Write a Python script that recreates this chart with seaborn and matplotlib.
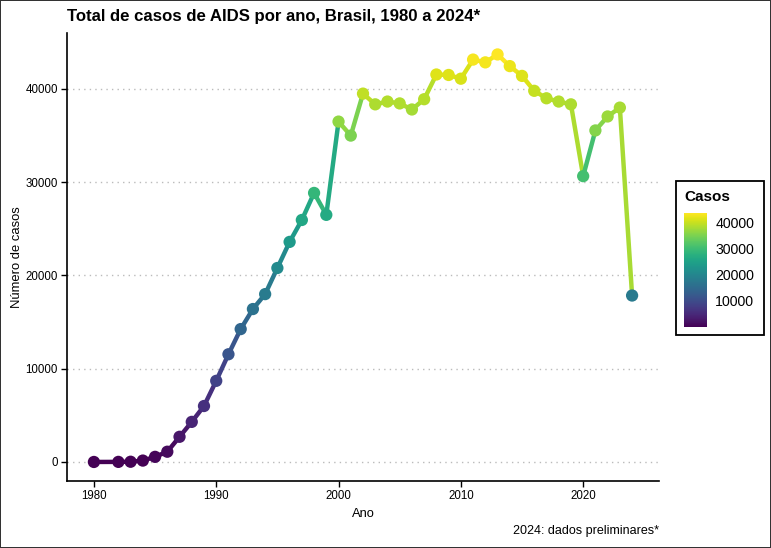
import numpy as np
import pandas as pd
import seaborn as sns
import matplotlib.pyplot as plt
from matplotlib.collections import LineCollection
from matplotlib.colors import Normalize
from matplotlib.cm import ScalarMappable
from matplotlib.patches import Rectangle

anos = [1980, 1982, 1983, 1984, 1985, 1986, 1987, 1988, 1989, 1990,
        1991, 1992, 1993, 1994, 1995, 1996, 1997, 1998, 1999, 2000,
        2001, 2002, 2003, 2004, 2005, 2006, 2007, 2008, 2009, 2010,
        2011, 2012, 2013, 2014, 2015, 2016, 2017, 2018, 2019, 2020,
        2021, 2022, 2023, 2024]
casos = [1, 10, 25, 150, 550, 1100, 2700, 4300, 6000, 8700,
         11550, 14250, 16400, 18000, 20800, 23600, 25950, 28850, 26500, 36500,
         35000, 39500, 38350, 38650, 38450, 37800, 38900, 41550, 41500, 41100,
         43150, 42850, 43700, 42450, 41400, 39800, 39000, 38650, 38350, 30650,
         35550, 37050, 38000, 17850]
legenda_ticks = [10000, 20000, 30000, 40000]

df = pd.DataFrame({"Ano": anos, "Casos": casos})

sns.set_theme(style="white")
plt.rcParams['font.family'] = ['Liberation Sans', 'DejaVu Sans']
plt.rcParams['text.color'] = 'black'
plt.rcParams['axes.labelcolor'] = 'black'
plt.rcParams['xtick.color'] = 'black'
plt.rcParams['ytick.color'] = 'black'

fig = plt.figure(figsize=(7.71, 5.48), dpi=100)
fig.patch.set_edgecolor("#333333")
fig.patch.set_linewidth(1.2)
ax = fig.add_axes([67 / 771, 1 - 481 / 548, 592 / 771, 448 / 548])

norm = Normalize(vmin=min(casos), vmax=max(casos))
cmap = plt.get_cmap("viridis")

# each segment gets the colour of its starting point
pts = df[["Ano", "Casos"]].to_numpy()
segs = np.stack([pts[:-1], pts[1:]], axis=1)
lc = LineCollection(segs, cmap=cmap, norm=norm, linewidths=3.2, capstyle="round", zorder=2)
lc.set_array(df["Casos"].to_numpy()[:-1])
ax.add_collection(lc)

sns.scatterplot(data=df, x="Ano", y="Casos", hue="Casos", hue_norm=norm, palette="viridis",
                s=78, linewidth=0, legend=False, ax=ax, zorder=3)

ax.set_xlim(1977.8, 2026.2)
ax.set_ylim(-2040, 46000)
ax.set_xticks([1980, 1990, 2000, 2010, 2020])
ax.set_yticks([0, 10000, 20000, 30000, 40000])
ax.yaxis.grid(True, linestyle=(0, (1, 3)), color="#bbbbbb", linewidth=1)
ax.xaxis.grid(False)
for s in ["top", "right"]:
    ax.spines[s].set_visible(False)
for s in ["left", "bottom"]:
    ax.spines[s].set_color("black")
    ax.spines[s].set_linewidth(1.2)
ax.tick_params(axis="both", which="major", length=4, width=1, color="black",
               labelsize=8.3, labelcolor="black", bottom=True, left=True, pad=2.5)
ax.set_xlabel("Ano", fontsize=9.3, color="black", labelpad=4)
ax.set_ylabel("Número de casos", fontsize=9.4, color="black", labelpad=1.5)

fig.text(67 / 771, 1 - 16 / 548, "Total de casos de AIDS por ano, Brasil, 1980 a 2024*",
         fontsize=12.1, fontweight="bold", ha="left", va="center", color="black")
fig.text(659 / 771, 1 - 531 / 548, "2024: dados preliminares*", fontsize=9,
         ha="right", va="center", color="black")

# legend box with colour bar
fig.patches.append(Rectangle((676 / 771, 1 - 335 / 548), 88 / 771, 154 / 548,
                             transform=fig.transFigure, fill=False, edgecolor="black",
                             linewidth=1.3))
fig.text(684 / 771, 1 - 197 / 548, "Casos", fontsize=11, fontweight="bold",
         ha="left", va="center", color="black")
cax = fig.add_axes([684 / 771, 1 - 327 / 548, 23 / 771, 114 / 548])
cb = fig.colorbar(ScalarMappable(norm=norm, cmap=cmap), cax=cax)
cb.outline.set_visible(False)
cb.set_ticks(legenda_ticks)
cax.tick_params(direction="in", length=4, width=0.8, color="white", labelsize=10.2,
                labelcolor="black", pad=6, left=True, right=True)

fig.savefig("out.png", dpi=100)
